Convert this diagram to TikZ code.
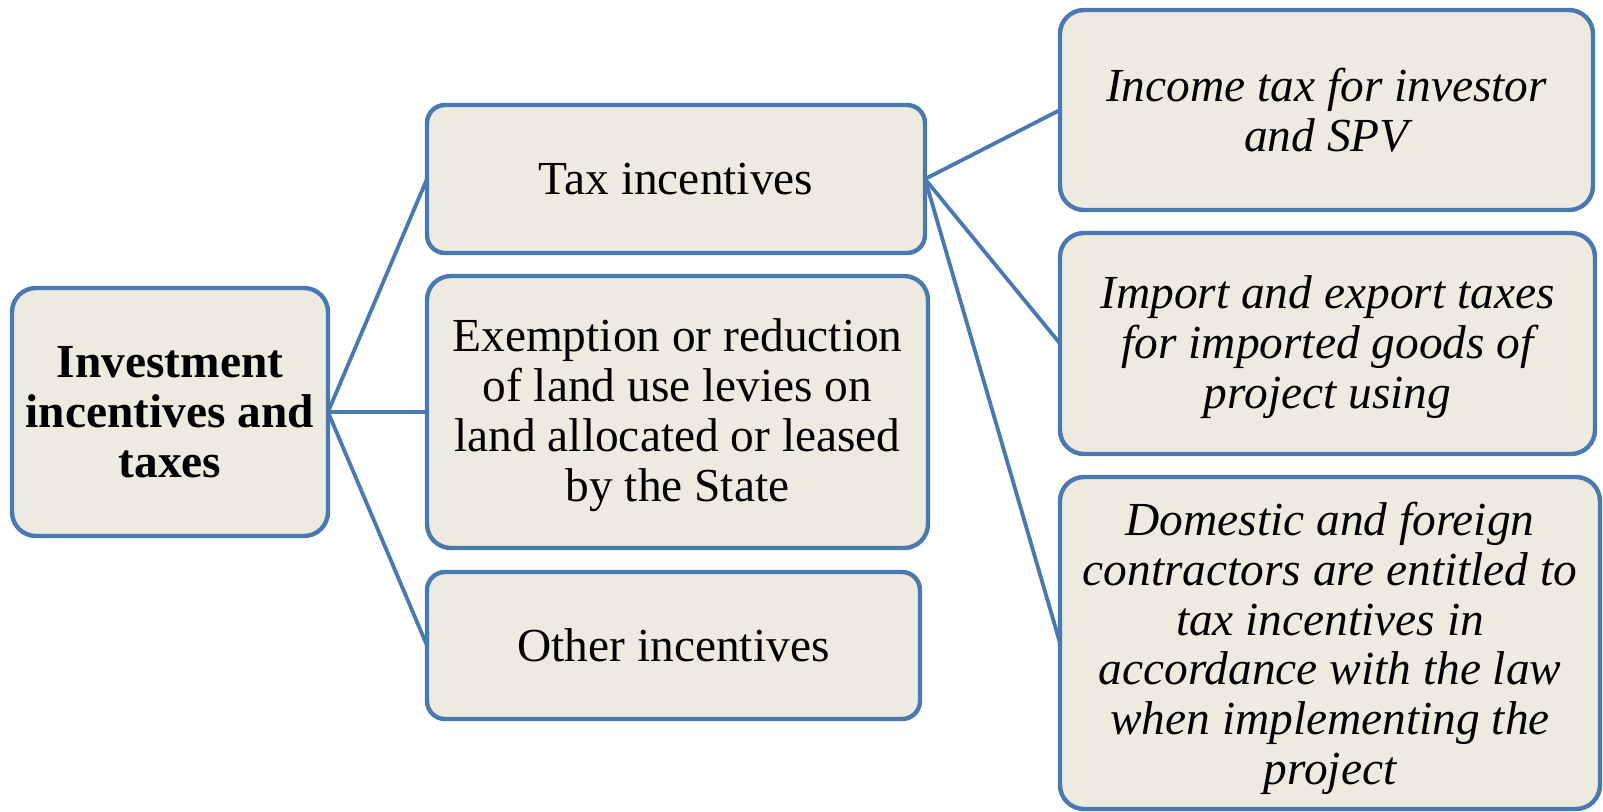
\documentclass[tikz,border=0pt]{standalone}
\usepackage{fontspec}
\setmainfont{Liberation Serif}
\definecolor{edgeblue}{HTML}{4A78B0}
\definecolor{boxfill}{HTML}{EDEBE0}
\begin{document}
\begin{tikzpicture}[x=0.5pt,y=-0.5pt,
  box/.style={draw=edgeblue, line width=2.2pt, fill=boxfill, rounded corners=12pt,
    align=center, inner sep=0pt, outer sep=0pt,
    font={\fontsize{23.7}{24.9}\selectfont}},
  link/.style={draw=edgeblue, line width=1.9pt}]
\useasboundingbox (0,0) rectangle (1603,811);
\node[box, minimum width=158pt, minimum height=124pt] (root) at (170,412)
  {\bfseries Investment\\\bfseries incentives and\\\bfseries taxes};
\node[box, minimum width=249pt, minimum height=74pt, rounded corners=9pt] (tax) at (676,179)
  {Tax incentives};
\node[box, minimum width=250.5pt, minimum height=136pt] (exempt) at (677.5,412)
  {\rule{0pt}{19.7pt}Exemption or reduction\\of land use levies on\\land allocated or leased\\by the State};
\node[box, minimum width=246.5pt, minimum height=73.5pt, rounded corners=9pt] (other) at (673.5,645.5)
  {Other incentives};
\node[box, minimum width=266.5pt, minimum height=100pt] (income) at (1326.5,110)
  {\itshape Income tax for investor\\\itshape and SPV};
\node[box, minimum width=267.5pt, minimum height=110.5pt] (import) at (1327.5,343.5)
  {\rule{0pt}{20.2pt}\itshape Import and export taxes\\\itshape for imported goods of\\\itshape project using};
\node[box, minimum width=270pt, minimum height=166pt] (domestic) at (1330,643)
  {\rule{0pt}{22pt}\itshape Domestic and foreign\\\itshape contractors are entitled to\\\itshape tax incentives in\\\itshape accordance with the law\\\itshape when implementing the\\\itshape project};
\draw[link] (root.east) -- (tax.west);
\draw[link] (root.east) -- (exempt.west);
\draw[link] (root.east) -- (other.west);
\draw[link] (tax.east) -- (income.west);
\draw[link] (tax.east) -- (import.west);
\draw[link] (tax.east) -- (domestic.west);
\end{tikzpicture}
\end{document}
